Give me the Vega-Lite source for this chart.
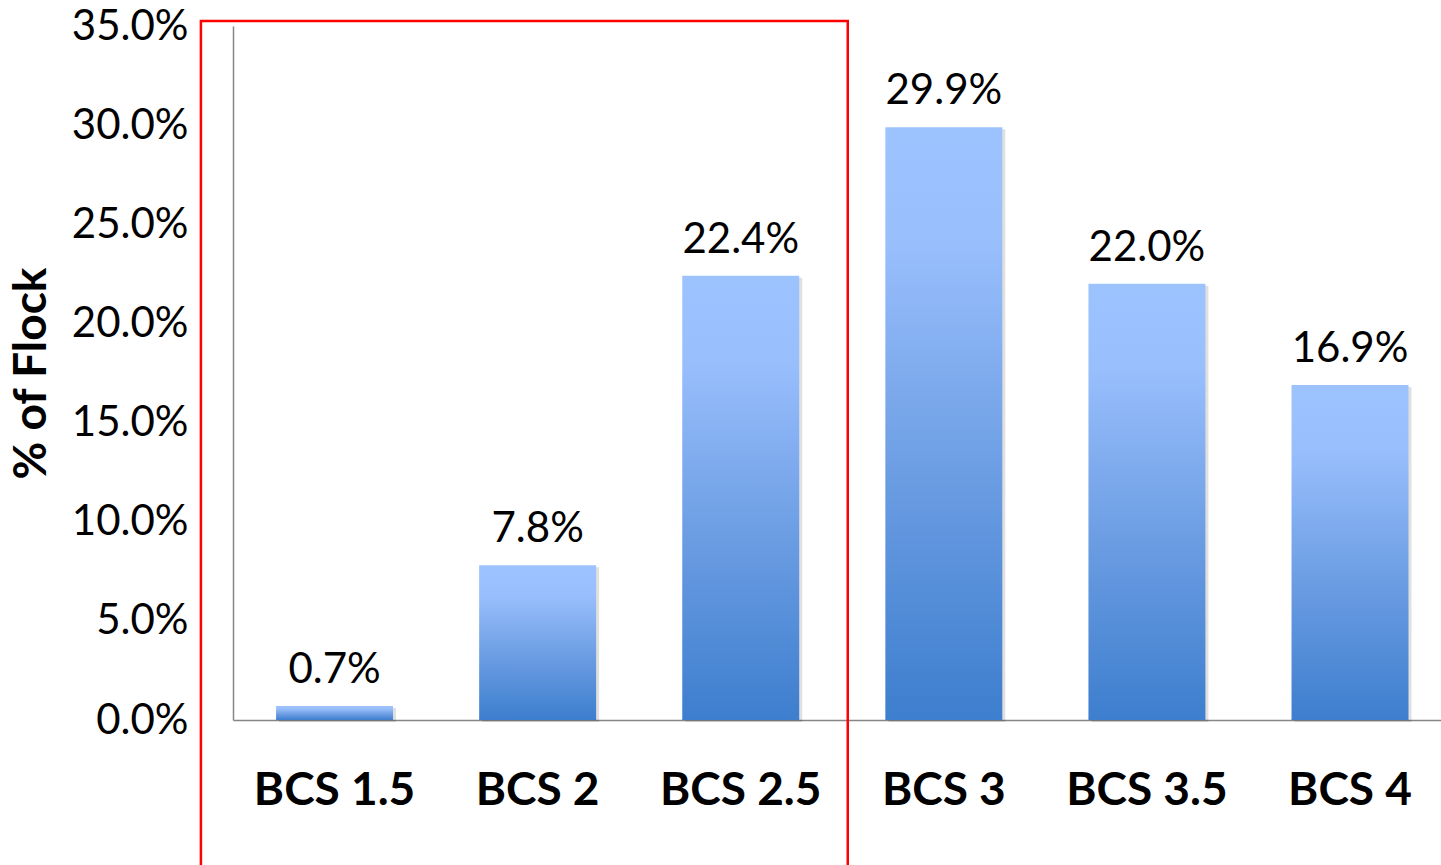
{
  "$schema": "https://vega.github.io/schema/vega-lite/v6.json",
  "width": 1208,
  "height": 694,
  "autosize": {"type": "none"},
  "padding": {"left": 233, "top": 26, "right": 0, "bottom": 145},
  "background": "white",
  "config": {"view": {"stroke": null}, "font": "Lato"},
  "data": {
    "values": [
      {"category": "BCS 1.5", "pct": 0.007},
      {"category": "BCS 2", "pct": 0.078},
      {"category": "BCS 2.5", "pct": 0.224},
      {"category": "BCS 3", "pct": 0.299},
      {"category": "BCS 3.5", "pct": 0.220},
      {"category": "BCS 4", "pct": 0.169}
    ]
  },
  "resolve": {"scale": {"x": "independent"}, "axis": {"x": "independent"}},
  "layer": [
    {
      "mark": {"type": "bar", "fill": "#000000", "opacity": 0.12, "xOffset": 3, "yOffset": 2, "y2Offset": 3},
      "encoding": {
        "x": {
          "field": "category",
          "type": "nominal",
          "scale": {
            "type": "band",
            "domain": ["BCS 1.5", "BCS 2", "BCS 2.5", "BCS 3", "BCS 3.5", "BCS 4"],
            "paddingInner": 0.424,
            "paddingOuter": 0.186,
            "align": 0.57
          },
          "axis": null
        },
        "y": {
          "field": "pct",
          "type": "quantitative",
          "scale": {"domain": [0, 0.35], "nice": false},
          "axis": {
            "title": "% of Flock",
            "titleFont": "Lato",
            "titleFontSize": 46,
            "titleFontWeight": "bold",
            "titleColor": "#000000",
            "titlePadding": 16,
            "values": [0, 0.05, 0.1, 0.15, 0.2, 0.25, 0.3, 0.35],
            "format": ".1%",
            "labelFont": "Lato",
            "labelFontSize": 42,
            "labelColor": "#000000",
            "labelPadding": 45,
            "ticks": false,
            "grid": false,
            "domainColor": "#868686",
            "domainWidth": 1.5
          }
        }
      }
    },
    {
      "mark": {
        "type": "bar",
        "fill": {
          "gradient": "linear",
          "x1": 0, "y1": 0, "x2": 0, "y2": 1,
          "stops": [
            {"offset": 0, "color": "#9DC3FF"},
            {"offset": 0.2, "color": "#98BEFC"},
            {"offset": 0.6, "color": "#6A9CE2"},
            {"offset": 1, "color": "#3D7ECE"}
          ]
        }
      },
      "encoding": {
        "x": {
          "field": "category",
          "type": "nominal",
          "scale": {
            "type": "band",
            "domain": ["BCS 1.5", "BCS 2", "BCS 2.5", "BCS 3", "BCS 3.5", "BCS 4"],
            "paddingInner": 0.424,
            "paddingOuter": 0.186,
            "align": 0.57
          },
          "axis": {
            "title": null,
            "labelAngle": 0,
            "labelFont": "Lato",
            "labelFontSize": 46,
            "labelFontWeight": "bold",
            "labelColor": "#000000",
            "labelPadding": 48,
            "ticks": false,
            "domainColor": "#868686",
            "domainWidth": 1.5,
            "grid": false
          }
        },
        "y": {"field": "pct", "type": "quantitative"}
      }
    },
    {
      "mark": {"type": "text", "baseline": "alphabetic", "dy": -23, "fontSize": 42, "font": "Lato", "color": "#000000"},
      "encoding": {
        "x": {
          "field": "category",
          "type": "nominal",
          "bandPosition": 0.5,
          "scale": {
            "type": "band",
            "domain": ["BCS 1.5", "BCS 2", "BCS 2.5", "BCS 3", "BCS 3.5", "BCS 4"],
            "paddingInner": 0.424,
            "paddingOuter": 0.186,
            "align": 0.57
          },
          "axis": null
        },
        "y": {"field": "pct", "type": "quantitative"},
        "text": {"field": "pct", "type": "quantitative", "format": ".1%"}
      }
    },
    {
      "data": {"values": [{"start": -0.66, "end": 2.525}]},
      "mark": {"type": "rect", "fillOpacity": 0, "stroke": "#FF0000", "strokeWidth": 2.5, "clip": false},
      "encoding": {
        "x": {"field": "start", "type": "quantitative", "scale": {"domain": [-0.502, 5.446], "nice": false, "zero": false}, "axis": null},
        "x2": {"field": "end"},
        "y": {"datum": 0.3525, "type": "quantitative"},
        "y2": {"datum": -0.08}
      }
    }
  ]
}
